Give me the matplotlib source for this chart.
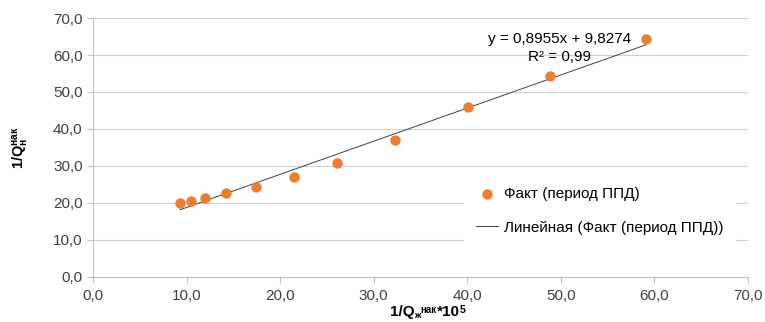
import numpy as np
import matplotlib
matplotlib.use('Agg')
from matplotlib import pyplot as plt
from matplotlib.ticker import FuncFormatter, MultipleLocator

plt.rcParams['font.family'] = ['Liberation Sans', 'DejaVu Sans']
plt.rcParams['mathtext.fontset'] = 'custom'
plt.rcParams['mathtext.rm'] = 'Liberation Sans'
plt.rcParams['mathtext.bf'] = 'Liberation Sans:bold'

# Данные: 1/Qж нак *10^5 и 1/Qн нак (период ППД)
x_fact = [9.3, 10.5, 12.0, 14.2, 17.4, 21.5, 26.1, 32.3, 40.1, 48.8, 59.1]
y_fact = [20.1, 20.6, 21.4, 22.7, 24.3, 27.1, 30.8, 37.1, 45.9, 54.4, 64.2]

# Линейный тренд
slope = 0.8955
intercept = 9.8274
r2_text = "0,99"

fig = plt.figure(figsize=(7.65, 3.22), dpi=100)
ax = fig.add_axes([0.1216, 0.14, 0.856, 0.804])

ax.scatter(x_fact, y_fact, s=42, color='#ED7D31', zorder=3,
           label='Факт (период ППД)')
xt = np.array([min(x_fact), max(x_fact)])
ax.plot(xt, slope * xt + intercept, color='#404040', lw=0.7, zorder=2,
        label='Линейная (Факт (период ППД))')

ax.set_xlim(0, 70)
ax.set_ylim(0, 70)
ax.xaxis.set_major_locator(MultipleLocator(10))
ax.yaxis.set_major_locator(MultipleLocator(10))
fmt = FuncFormatter(lambda v, p: f"{v:.1f}".replace('.', ','))
ax.xaxis.set_major_formatter(fmt)
ax.yaxis.set_major_formatter(fmt)
ax.tick_params(labelsize=11, length=4, width=0.8, color='#BFBFBF',
               labelcolor='#404040')
ax.tick_params(axis='x', pad=5)

ax.grid(axis='y', color='#D0D0D0', lw=0.8)
ax.set_axisbelow(True)
for s in ['top', 'right']:
    ax.spines[s].set_visible(False)
for s in ['left', 'bottom']:
    ax.spines[s].set_color('#BFBFBF')
    ax.spines[s].set_linewidth(0.8)

# подпись оси X собрана из кусков (мелкие индексы как в Excel)
t1 = ax.text(0.453, -0.151, "1/Q", transform=ax.transAxes, fontsize=11,
             weight='bold', va='baseline', ha='left')
t2 = ax.annotate("ж", xy=(1, 0), xycoords=t1, xytext=(0, -1),
                 textcoords='offset points', fontsize=6.5, weight='bold',
                 va='bottom', ha='left')
t3 = ax.annotate("нак", xy=(1, 1), xycoords=(t2, t1), xytext=(0, 0),
                 textcoords='offset points', fontsize=7, weight='bold',
                 va='top', ha='left')
t4 = ax.annotate("*10", xy=(1, 0), xycoords=(t3, t1), fontsize=11,
                 weight='bold', va='bottom', ha='left')
t5 = ax.annotate("5", xy=(1, 1), xycoords=t4, fontsize=7.5, weight='bold',
                 va='top', ha='left')

ax.set_ylabel(r'$\mathbf{1/Q_{н}^{нак}}$', fontsize=10.5, va='center')
ax.yaxis.set_label_coords(-0.11, 0.5)

eq = f"y = {slope:.4f}x + {intercept:.4f}".replace('.', ',')
ax.text(49.9, 64.3, eq, fontsize=11, ha='center', va='center')
ax.text(49.9, 59.5, "R² = " + r2_text, fontsize=11, ha='center', va='center')

leg = ax.legend(loc='center left', bbox_to_anchor=(0.555, 0.255), frameon=True,
                fontsize=11, labelspacing=1.3, handlelength=1.4,
                handletextpad=0.4, borderpad=0.8, edgecolor='none',
                framealpha=1, fancybox=False)

plt.savefig('out.png', dpi=100)
